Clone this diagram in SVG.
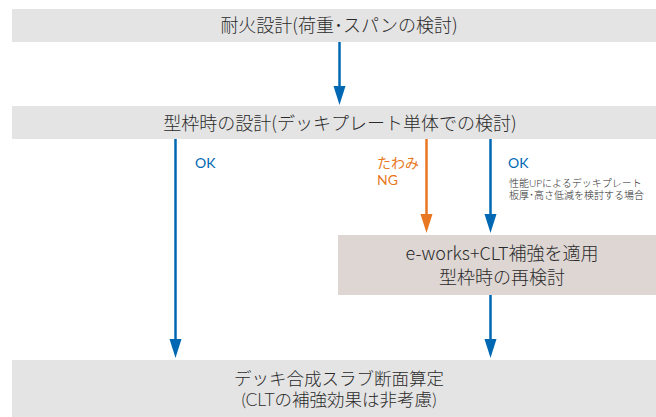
<svg xmlns="http://www.w3.org/2000/svg" width="656" height="417" viewBox="0 0 656 417">
<style>
.box{fill:#e4e4e4}
.box2{fill:#ddd6d3}
.t{font-family:"Noto Sans CJK JP",sans-serif;fill:#2b2b2b;text-anchor:middle;font-weight:300}
.tl{font-family:Lato,"Noto Sans CJK JP",sans-serif;fill:#2b2b2b;text-anchor:middle;font-weight:300}
.lb{font-family:Lato,"Noto Sans CJK JP",sans-serif;font-size:14px;font-weight:400}
.sm{font-family:Lato,"Noto Sans CJK JP",sans-serif;font-size:10px;fill:#2b2b2b;font-weight:300}
.blue{stroke:#0068b3;stroke-width:2.5;fill:none}
.orange{stroke:#e87722;stroke-width:2.5;fill:none}
</style>
<g id="n1">
<rect class="box" x="12" y="9" width="644" height="33"/>
<text class="t" x="339" y="32" font-size="18">耐火設計(荷重･スパンの検討)</text>
</g>
<g id="n2">
<rect class="box" x="12" y="106" width="644" height="33"/>
<text class="t" x="340" y="130" font-size="18">型枠時の設計(デッキプレート単体での検討)</text>
</g>
<g id="n3">
<rect class="box2" x="338" y="235" width="318" height="60"/>
<text class="t" x="502" y="260" font-size="18">e-works+CLT補強を適用</text>
<text class="t" x="502" y="284" font-size="18">型枠時の再検討</text>
</g>
<g id="n4">
<rect class="box" x="12" y="360" width="644" height="57"/>
<text class="tl" x="339" y="384.5" font-size="17.5">デッキ合成スラブ断面算定</text>
<text class="tl" x="339" y="405.5" font-size="17.5">(CLTの補強効果は非考慮)</text>
</g>
<g id="connectors">
<line class="blue" x1="339.5" y1="42" x2="339.5" y2="88"/>
<path d="M333.5,86 L345.5,86 L339.5,105 Z" fill="#0068b3"/>
<line class="blue" x1="175.5" y1="139" x2="175.5" y2="341"/>
<path d="M169.5,339 L181.5,339 L175.5,358 Z" fill="#0068b3"/>
<line class="orange" x1="426.5" y1="139" x2="426.5" y2="216"/>
<path d="M420.5,214 L432.5,214 L426.5,233 Z" fill="#e87722"/>
<line class="blue" x1="490.5" y1="139" x2="490.5" y2="216"/>
<path d="M484.5,214 L496.5,214 L490.5,233 Z" fill="#0068b3"/>
<line class="blue" x1="490.5" y1="295" x2="490.5" y2="341"/>
<path d="M484.5,339 L496.5,339 L490.5,358 Z" fill="#0068b3"/>
</g>
<g id="labels">
<text class="lb" x="195" y="168" fill="#0068b3">OK</text>
<text class="lb" x="377" y="168" fill="#e87722" font-size="13">たわみ</text>
<text class="lb" x="377" y="185" fill="#e87722">NG</text>
<text class="lb" x="508" y="168" fill="#0068b3">OK</text>
<text class="sm" x="509" y="187">性能UPによるデッキプレート</text>
<text class="sm" x="509" y="199">板厚･高さ低減を検討する場合</text>
</g>
</svg>
